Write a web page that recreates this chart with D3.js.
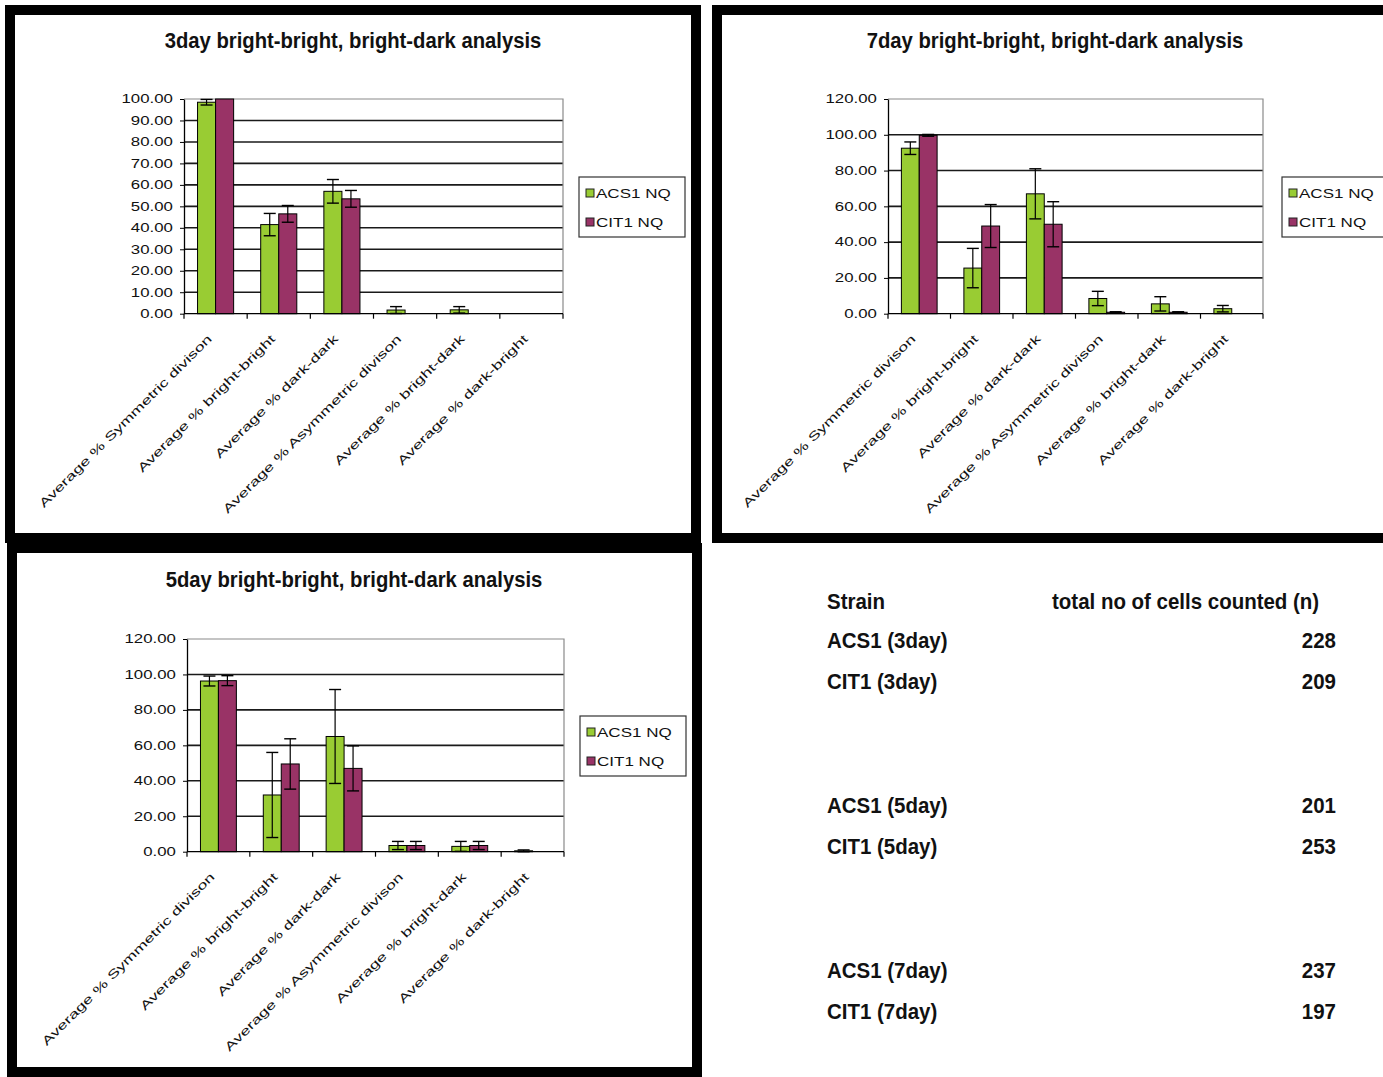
<!DOCTYPE html>
<html>
<head>
<meta charset="utf-8">
<script src="https://cdn.jsdelivr.net/npm/d3@7"></script>
<style>
  body { margin: 0; background: #fff; }
  svg { display: block; }
  text { font-family: "Liberation Sans", Arial, sans-serif; }
</style>
</head>
<body>
<svg id="page" width="1383" height="1077"></svg>
<script>
// ---- data ----
const categories = [
  "Average % Symmetric divison",
  "Average % bright-bright",
  "Average % dark-dark",
  "Average % Asymmetric divison",
  "Average % bright-dark",
  "Average % dark-bright"
];
const seriesNames = ["ACS1 NQ", "CIT1 NQ"];

const yTicksDay3 = [0, 10, 20, 30, 40, 50, 60, 70, 80, 90, 100];
const yTicksDay5 = [0, 20, 40, 60, 80, 100, 120];
const yTicksDay7 = [0, 20, 40, 60, 80, 100, 120];

const acs1Day3    = [98.5, 41.5, 57.0, 1.7, 1.8, 0];
const acs1Day3Err = [1.3, 5.2, 5.5, 1.6, 1.5, 0];
const cit1Day3    = [100, 46.5, 53.5, 0, 0, 0];
const cit1Day3Err = [0, 3.9, 3.9, 0, 0, 0];

const acs1Day7    = [92.5, 25.5, 67.0, 8.5, 5.5, 2.8];
const acs1Day7Err = [3.5, 11.0, 14.0, 4.0, 4.0, 1.8];
const cit1Day7    = [99.7, 49.0, 50.0, 0.8, 0.8, 0];
const cit1Day7Err = [0.5, 12.0, 12.6, 0.3, 0.3, 0];

const acs1Day5    = [96.3, 32.0, 65.0, 3.5, 3.0, 0.5];
const acs1Day5Err = [2.8, 24.0, 26.5, 2.3, 2.8, 0.5];
const cit1Day5    = [96.5, 49.5, 47.0, 3.5, 3.5, 0];
const cit1Day5Err = [2.8, 14.2, 12.7, 2.3, 2.3, 0];

const tableHeaders = ["Strain", "total no of cells counted (n)"];
const strains = ["ACS1 (3day)", "CIT1 (3day)", "ACS1 (5day)", "CIT1 (5day)", "ACS1 (7day)", "CIT1 (7day)"];
const cellCounts = [228, 209, 201, 253, 237, 197];

// ---- styling ----
const seriesColors = ["#99cc33", "#993366"];
const ink = "#111";

const svg = d3.select("#page");

// heavy black frames around each chart panel
const frames = [
  { x: 10, y: 10, w: 686, h: 528 },
  { x: 717, y: 10, w: 720, h: 528 },
  { x: 12, y: 548, w: 685, h: 524 }
];
svg.selectAll("rect.frame").data(frames).join("rect")
  .attr("class", "frame")
  .attr("x", d => d.x).attr("y", d => d.y)
  .attr("width", d => d.w).attr("height", d => d.h)
  .attr("fill", "none").attr("stroke", "#000").attr("stroke-width", 10);

const charts = [
  {
    title: "3day bright-bright, bright-dark analysis", titleX: 353, titleY: 48,
    left: 184, right: 563, top: 99, bottom: 313.7,
    ticks: yTicksDay3, series: [[acs1Day3, acs1Day3Err], [cit1Day3, cit1Day3Err]],
    legend: { x: 579, y: 177, w: 106, h: 60 }
  },
  {
    title: "7day bright-bright, bright-dark analysis", titleX: 1055, titleY: 48,
    left: 888, right: 1263, top: 99, bottom: 313.7,
    ticks: yTicksDay7, series: [[acs1Day7, acs1Day7Err], [cit1Day7, cit1Day7Err]],
    legend: { x: 1282, y: 177, w: 110, h: 60 }
  },
  {
    title: "5day bright-bright, bright-dark analysis", titleX: 354, titleY: 587,
    left: 187, right: 564, top: 639, bottom: 851.7,
    ticks: yTicksDay5, series: [[acs1Day5, acs1Day5Err], [cit1Day5, cit1Day5Err]],
    legend: { x: 580, y: 716, w: 106, h: 60 }
  }
];

function drawChart(c) {
  const g = svg.append("g");

  // title in a tall, condensed bold face
  g.append("text")
    .attr("transform", `translate(${c.titleX},${c.titleY}) scale(0.9,1)`)
    .attr("text-anchor", "middle")
    .attr("font-size", 22.5).attr("font-weight", "bold")
    .attr("fill", ink)
    .text(c.title);

  const yMax = c.ticks[c.ticks.length - 1];
  const y = d3.scaleLinear().domain([0, yMax]).range([c.bottom, c.top]);
  const x = d3.scaleBand().domain(categories).range([c.left, c.right]).padding(0);
  const bw = x.bandwidth() / 3.5;
  const xs = d3.scaleBand().domain(seriesNames).range([0.75 * bw, 2.75 * bw]);

  // gridlines
  g.selectAll("line.grid").data(c.ticks.filter(t => t > 0 && t < yMax)).join("line")
    .attr("x1", c.left).attr("x2", c.right)
    .attr("y1", d => y(d)).attr("y2", d => y(d))
    .attr("stroke", "#1a1a1a").attr("stroke-width", 1.6);

  // plot area border (top and right)
  g.append("path")
    .attr("d", `M${c.left},${y(yMax)}H${c.right}V${c.bottom}`)
    .attr("fill", "none").attr("stroke", "#8a8a8a").attr("stroke-width", 1.2);

  // bars
  c.series.forEach(([vals, errs], si) => {
    const name = seriesNames[si];
    g.selectAll(null).data(categories).join("rect")
      .attr("x", d => x(d) + xs(name))
      .attr("width", xs.bandwidth())
      .attr("y", (d, i) => y(vals[i]))
      .attr("height", (d, i) => y(0) - y(vals[i]))
      .attr("fill", seriesColors[si])
      .attr("stroke", "#000").attr("stroke-width", 1);
  });

  // error bars
  c.series.forEach(([vals, errs], si) => {
    const name = seriesNames[si];
    const items = categories.map((cat, i) => ({ cat, v: vals[i], e: errs[i] })).filter(d => d.e > 0);
    const cx = d => x(d.cat) + xs(name) + xs.bandwidth() / 2;
    const eg = g.selectAll(null).data(items).join("g");
    eg.append("line")
      .attr("x1", cx).attr("x2", cx)
      .attr("y1", d => y(d.v + d.e)).attr("y2", d => y(Math.max(0, d.v - d.e)))
      .attr("stroke", "#000").attr("stroke-width", 1.2);
    [1, -1].forEach(sign => {
      eg.append("line")
        .attr("x1", d => cx(d) - 6).attr("x2", d => cx(d) + 6)
        .attr("y1", d => y(Math.max(0, d.v + sign * d.e)))
        .attr("y2", d => y(Math.max(0, d.v + sign * d.e)))
        .attr("stroke", "#000").attr("stroke-width", 1.4);
    });
  });

  // y axis
  const yAxis = g.append("g")
    .attr("transform", `translate(${c.left},0)`)
    .call(d3.axisLeft(y).tickValues(c.ticks).tickFormat(d3.format(".2f")).tickSize(4).tickPadding(4).tickSizeOuter(0));
  yAxis.select(".domain").attr("stroke", "#000").attr("stroke-width", 1.3);
  yAxis.selectAll(".tick line").attr("stroke", "#000");
  yAxis.selectAll(".tick text")
    .attr("font-size", 12).attr("fill", ink)
    .attr("font-family", "'Liberation Sans', Arial, sans-serif")
    .attr("transform", "scale(1.4,1)");

  // x axis line with ticks at category boundaries
  g.append("line")
    .attr("x1", c.left).attr("x2", c.right)
    .attr("y1", c.bottom).attr("y2", c.bottom)
    .attr("stroke", "#000").attr("stroke-width", 1.3);
  const bounds = categories.map(d => x(d)).concat([c.right]);
  g.selectAll(null).data(bounds).join("line")
    .attr("x1", d => d).attr("x2", d => d)
    .attr("y1", c.bottom).attr("y2", c.bottom + 5)
    .attr("stroke", "#000").attr("stroke-width", 1.2);

  // rotated category labels
  g.selectAll(null).data(categories).join("text")
    .attr("transform", d => `translate(${x(d) + x.bandwidth() / 2 - 3},${c.bottom + 26}) rotate(-45) scale(1.5,1)`)
    .attr("text-anchor", "end")
    .attr("font-size", 12).attr("fill", ink)
    .text(d => d);

  // legend
  const L = c.legend;
  const lg = g.append("g");
  lg.append("rect")
    .attr("x", L.x).attr("y", L.y).attr("width", L.w).attr("height", L.h)
    .attr("fill", "#fff").attr("stroke", "#333").attr("stroke-width", 1.2);
  seriesNames.forEach((name, i) => {
    const cy = L.y + 16 + i * 29;
    lg.append("rect")
      .attr("x", L.x + 7).attr("y", cy - 4).attr("width", 8).attr("height", 8)
      .attr("fill", seriesColors[i]).attr("stroke", "#222").attr("stroke-width", 1);
    lg.append("text")
      .attr("transform", `translate(${L.x + 17},${cy + 4.5}) scale(1.42,1)`)
      .attr("font-size", 12).attr("fill", ink)
      .text(name);
  });
}

charts.forEach(drawChart);

// cell count table, same condensed bold face as the titles
const tbl = svg.append("g").attr("font-size", 22.5).attr("font-weight", "bold").attr("fill", ink);
const condensed = (x, y) => `translate(${x},${y}) scale(0.91,1)`;
tbl.append("text").attr("transform", condensed(827, 609)).text(tableHeaders[0]);
tbl.append("text").attr("transform", condensed(1052, 609)).text(tableHeaders[1]);
const rowY = strains.map((s, i) => 648 + Math.floor(i / 2) * 165 + (i % 2) * 40.5);
tbl.selectAll("text.strain").data(strains).join("text")
  .attr("class", "strain")
  .attr("transform", (d, i) => condensed(827, rowY[i]))
  .text(d => d);
tbl.selectAll("text.count").data(cellCounts).join("text")
  .attr("class", "count")
  .attr("transform", (d, i) => condensed(1336, rowY[i]))
  .attr("text-anchor", "end")
  .text(d => d);
</script>
</body>
</html>
